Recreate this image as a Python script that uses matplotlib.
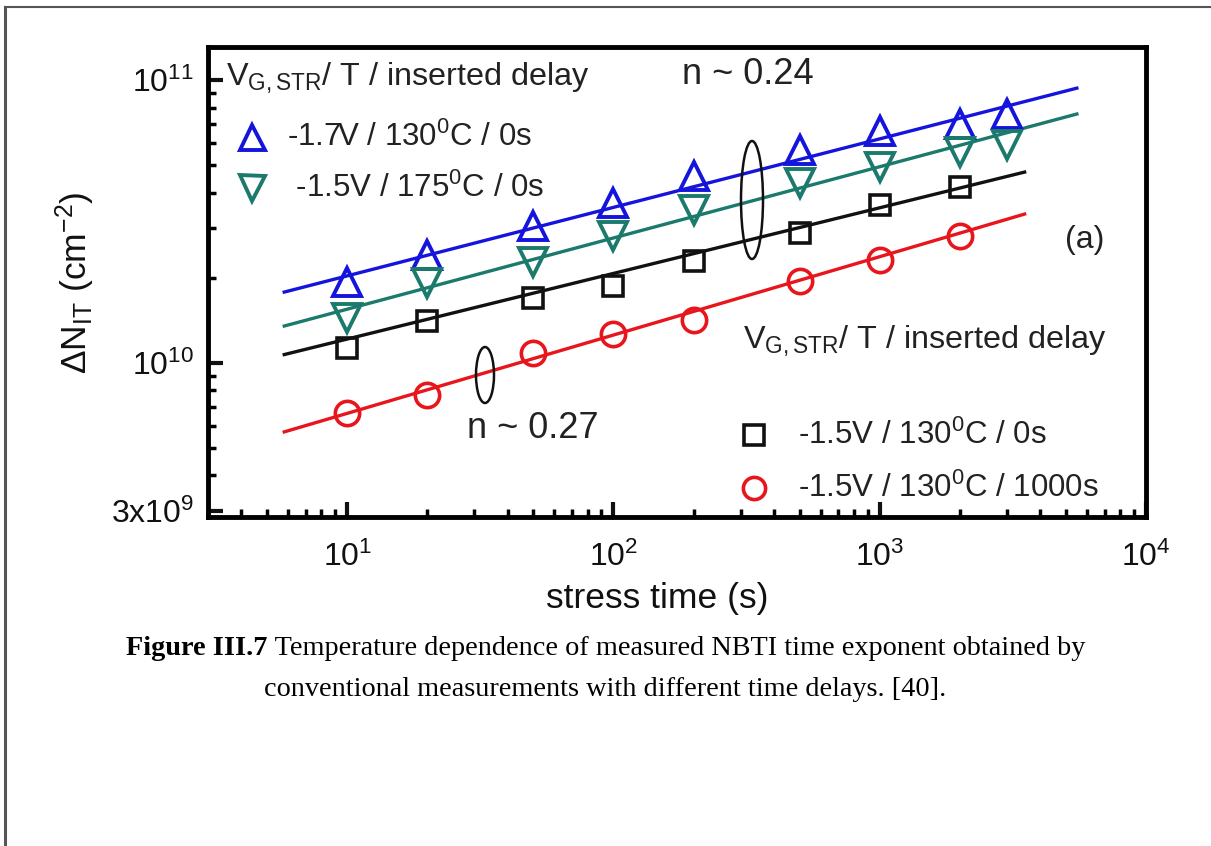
import matplotlib
matplotlib.use("Agg")
import matplotlib.pyplot as plt
from matplotlib.patches import Ellipse
from matplotlib.lines import Line2D
from matplotlib.ticker import FixedLocator, LogLocator, NullFormatter

plt.rcParams['font.family'] = ['Liberation Sans', 'DejaVu Sans']
plt.rcParams['mathtext.fontset'] = 'custom'
plt.rcParams['mathtext.rm'] = 'Liberation Sans'
plt.rcParams['mathtext.it'] = 'Liberation Sans'
plt.rcParams['mathtext.bf'] = 'Liberation Sans:bold'

# ---- data ----
t_a = [10, 20, 50, 100, 200, 500, 1000, 2000, 3000]
blue_vals = [1.93e10, 2.41e10, 3.05e10, 3.68e10, 4.58e10, 5.66e10, 6.61e10, 6.99e10, 7.59e10]
teal_vals = [1.44e10, 1.92e10, 2.27e10, 2.81e10, 3.47e10, 4.33e10, 4.93e10, 5.57e10, 5.89e10]
t_b = [10, 20, 50, 100, 200, 500, 1000, 2000]
black_vals = [1.13e10, 1.41e10, 1.70e10, 1.87e10, 2.29e10, 2.88e10, 3.62e10, 4.19e10]
red_vals = [6.66e9, 7.71e9, 1.08e10, 1.27e10, 1.42e10, 1.95e10, 2.31e10, 2.81e10]

blue_fit_t = [5.8, 5500]
blue_fit = [1.78e10, 9.37e10]
teal_fit_t = [5.8, 5500]
teal_fit = [1.35e10, 7.59e10]
black_fit_t = [5.8, 3500]
black_fit = [1.07e10, 4.73e10]
red_fit_t = [5.8, 3500]
red_fit = [5.70e9, 3.36e10]

labels_top = [r"-1.7V / 130$^{0}$C / 0s", r" -1.5V / 175$^{0}$C / 0s"]
labels_bot = [r"-1.5V / 130$^{0}$C / 0s", r"-1.5V / 130$^{0}$C / 1000s"]
legend_title = r"V$_{\mathregular{G,STR}}$/ T / inserted delay"
x_ticks = [10, 100, 1000, 10000]
x_ticklabels = [r"10$^{1}$", r"10$^{2}$", r"10$^{3}$", r"10$^{4}$"]
y_ticks = [3e9, 1e10, 1e11]
y_ticklabels = [r"3x10$^{9}$", r"10$^{10}$", r"10$^{11}$"]

BLUE = '#1414dc'
TEAL = '#1b7a6c'
BLACK = '#111111'
RED = '#e8161c'
TXT = '#222222'

W, H = 1211, 846
fig = plt.figure(figsize=(W / 100, H / 100), dpi=100)
fig.patch.set_facecolor('white')

L, R, T, B = 208, 1146, 47, 517
ax = fig.add_axes([L / W, 1 - B / H, (R - L) / W, (B - T) / H])

def axf(x, y):
    return (x - L) / (R - L), (B - y) / (B - T)

ax.set_xscale('log')
ax.set_yscale('log')
ax.set_xlim(3, 1e4)
ax.set_ylim(2.85e9, 1.31e11)

lw = 2.4
ax.plot(blue_fit_t, blue_fit, color=BLUE, lw=lw, zorder=2)
ax.plot(teal_fit_t, teal_fit, color=TEAL, lw=lw, zorder=2)
ax.plot(black_fit_t, black_fit, color=BLACK, lw=lw, zorder=2)
ax.plot(red_fit_t, red_fit, color=RED, lw=lw, zorder=2)

ax.plot(t_a, blue_vals, ls='none', marker='^', ms=20, mfc='none', mec=BLUE, mew=2.8, zorder=3)
ax.plot(t_a, teal_vals, ls='none', marker='v', ms=20, mfc='none', mec=TEAL, mew=2.8, zorder=3)
ax.plot(t_b, black_vals, ls='none', marker='s', ms=15, mfc='none', mec=BLACK, mew=2.6, zorder=3)
ax.plot(t_b, red_vals, ls='none', marker='o', ms=17.5, mfc='none', mec=RED, mew=2.6, zorder=3)

# axes styling
for s in ax.spines.values():
    s.set_linewidth(3.5)
ax.xaxis.set_major_locator(FixedLocator(x_ticks))
ax.set_xticklabels(x_ticklabels)
ax.xaxis.set_minor_locator(LogLocator(base=10, subs=range(2, 10), numticks=20))
ax.xaxis.set_minor_formatter(NullFormatter())
ax.yaxis.set_major_locator(FixedLocator(y_ticks))
ax.set_yticklabels(y_ticklabels)
ax.yaxis.set_minor_locator(LogLocator(base=10, subs=range(2, 10), numticks=20))
ax.yaxis.set_minor_formatter(NullFormatter())
ax.tick_params(which='major', direction='in', length=11, width=3, labelsize=23,
               top=False, right=False, colors='#111111')
ax.tick_params(which='minor', direction='in', length=6, width=2.5, top=False, right=False)
ax.tick_params(axis='x', which='major', pad=18)
ax.tick_params(axis='y', which='major', pad=10)

ax.set_xlabel("stress time (s)", fontsize=25.5, color='#111111')
ax.xaxis.set_label_coords((657 - L) / (R - L), axf(0, 582)[1])
ax.set_ylabel(r"$\Delta$N$_{\mathregular{IT}}$ (cm$^{\mathregular{-2}}$)", fontsize=25.5, color='#111111')
ax.yaxis.set_label_coords(axf(97, 0)[0], axf(0, 283)[1])

# in-plot legends (drawn as text + markers)
fs = 22.5
fs_t = 23.3
ax.text(*axf(226, 78), legend_title, transform=ax.transAxes, fontsize=fs_t, va='center', ha='left', color=TXT)
ax.plot(*axf(252, 137), transform=ax.transAxes, marker='^', ms=18, mfc='none', mec=BLUE, mew=2.8, clip_on=False)
ax.text(*axf(287, 137), labels_top[0], transform=ax.transAxes, fontsize=fs, va='center', ha='left', color=TXT)
ax.plot(*axf(252, 188), transform=ax.transAxes, marker='v', ms=18, mfc='none', mec=TEAL, mew=2.8, clip_on=False)
ax.text(*axf(287, 188), labels_top[1], transform=ax.transAxes, fontsize=fs, va='center', ha='left', color=TXT)

ax.text(*axf(743, 341), legend_title, transform=ax.transAxes, fontsize=fs_t, va='center', ha='left', color=TXT)
ax.plot(*axf(754, 435), transform=ax.transAxes, marker='s', ms=14, mfc='none', mec=BLACK, mew=2.6)
ax.text(*axf(798, 435), labels_bot[0], transform=ax.transAxes, fontsize=fs, va='center', ha='left', color=TXT)
ax.plot(*axf(754, 488), transform=ax.transAxes, marker='o', ms=16, mfc='none', mec=RED, mew=2.6)
ax.text(*axf(798, 488), labels_bot[1], transform=ax.transAxes, fontsize=fs, va='center', ha='left', color=TXT)

ax.text(*axf(1085, 240), "(a)", transform=ax.transAxes, fontsize=23, va='center', ha='center', color=TXT)
ax.text(*axf(748, 74), "n ~ 0.24", transform=ax.transAxes, fontsize=26, va='center', ha='center', color=TXT)
ax.text(*axf(533, 428), "n ~ 0.27", transform=ax.transAxes, fontsize=26, va='center', ha='center', color=TXT)

cx, cy = axf(752, 200)
ax.add_patch(Ellipse((cx, cy), 22 / (R - L), 118 / (B - T), transform=ax.transAxes,
                     fill=False, ec='#111111', lw=1.8, zorder=4))
cx, cy = axf(485, 375)
ax.add_patch(Ellipse((cx, cy), 18 / (R - L), 56 / (B - T), transform=ax.transAxes,
                     fill=False, ec='#111111', lw=1.8, zorder=4))

# outer border (top and left only, page crop)
fig.add_artist(Line2D([5 / W, 5 / W], [0, 1 - 7 / H], color='#555555', lw=2.2))
fig.add_artist(Line2D([5 / W, 1], [1 - 7 / H, 1 - 7 / H], color='#555555', lw=1.5))

# caption
cap_fs = 20.3
serif = ['Liberation Serif', 'DejaVu Serif']
t1 = fig.text(0, 1 - 648 / H, "Figure III.7", fontsize=cap_fs, fontweight='bold', family=serif, va='center', ha='left')
t2 = fig.text(0, 1 - 648 / H, " Temperature dependence of measured NBTI time exponent obtained by",
              fontsize=cap_fs, family=serif, va='center', ha='left')
fig.text(0.5, 1 - 689 / H, "conventional measurements with different time delays. [40].",
         fontsize=cap_fs, family=serif, va='center', ha='center')
fig.canvas.draw()
r = fig.canvas.get_renderer()
w1 = t1.get_window_extent(r).width
w2 = t2.get_window_extent(r).width
x0 = (W - (w1 + w2)) / 2
t1.set_x(x0 / W)
t2.set_x((x0 + w1) / W)

fig.savefig("out.png", dpi=100, facecolor='white')
